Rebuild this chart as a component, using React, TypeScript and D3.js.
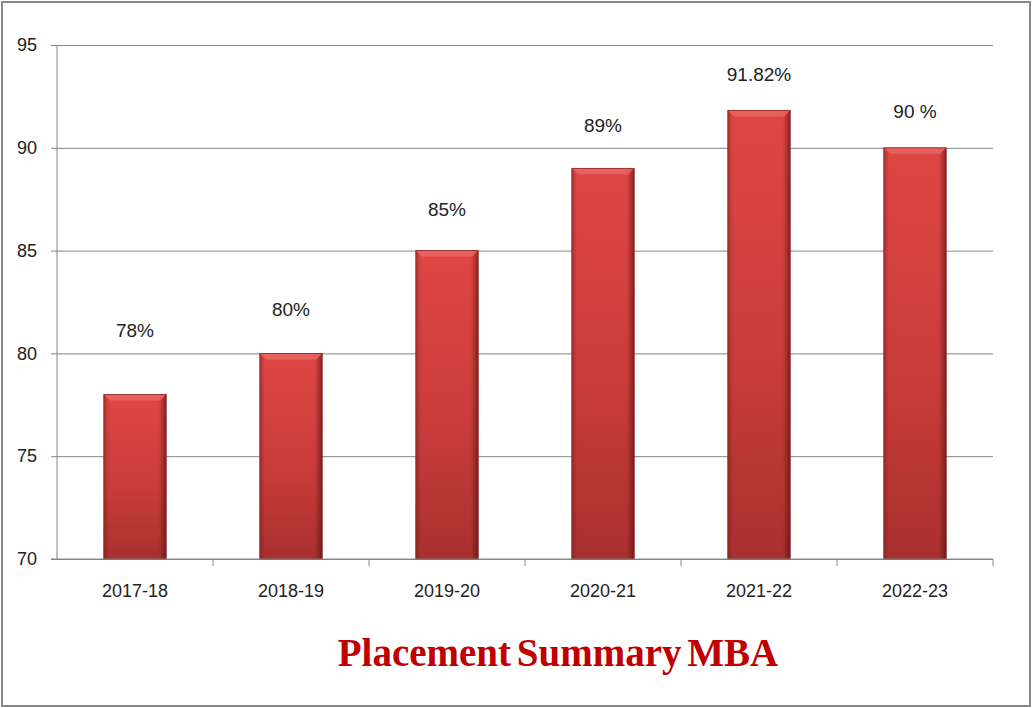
import { useEffect, useRef } from "react"
import * as d3 from "d3"

const years = ["2017-18", "2018-19", "2019-20", "2020-21", "2021-22", "2022-23"]
const placement = [78, 80, 85, 89, 91.82, 90]
const valueLabels = ["78%", "80%", "85%", "89%", "91.82%", "90 %"]
const yTicks = [70, 75, 80, 85, 90, 95]

// label offsets above bar tops (px), the labels were hand-placed in the original
const labelDy = [-58, -37, -35, -36, -29, -30]

const W = 1032, H = 708
const FONT = "'Liberation Sans', Arial, sans-serif"

export default function App() {
  const ref = useRef<SVGSVGElement>(null)
  useEffect(() => {
    if (!ref.current) return
    const svg = d3.select(ref.current)
    svg.selectAll("*").remove()

    const defs = svg.append("defs")
    const vg = defs.append("linearGradient").attr("id", "barV").attr("x1", 0).attr("y1", 0).attr("x2", 0).attr("y2", 1)
    vg.append("stop").attr("offset", "0%").attr("stop-color", "#de4644")
    vg.append("stop").attr("offset", "55%").attr("stop-color", "#c93c3a")
    vg.append("stop").attr("offset", "100%").attr("stop-color", "#a8302f")
    const hg = defs.append("linearGradient").attr("id", "barH").attr("x1", 0).attr("y1", 0).attr("x2", 1).attr("y2", 0)
    hg.append("stop").attr("offset", "0%").attr("stop-color", "#5a0f0f").attr("stop-opacity", 0.35)
    hg.append("stop").attr("offset", "8%").attr("stop-color", "#5a0f0f").attr("stop-opacity", 0)
    hg.append("stop").attr("offset", "88%").attr("stop-color", "#5a0f0f").attr("stop-opacity", 0)
    hg.append("stop").attr("offset", "100%").attr("stop-color", "#3a0808").attr("stop-opacity", 0.55)

    const m = { top: 45, right: 39, bottom: 149, left: 57 }
    const iw = W - m.left - m.right
    const ih = H - m.top - m.bottom

    // outer frame
    svg.append("rect").attr("x", 2).attr("y", 2).attr("width", W - 4).attr("height", H - 4)
      .attr("fill", "#fff").attr("stroke", "#888").attr("stroke-width", 2)

    const g = svg.append("g").attr("transform", `translate(${m.left},${m.top})`)
    const x = d3.scaleBand().domain(years).range([0, iw]).paddingInner(0.6).paddingOuter(0.3)
    const band = d3.scaleBand().domain(years).range([0, iw])
    const y = d3.scaleLinear().domain([70, 95]).range([ih, 0])

    g.append("g").call(d3.axisLeft(y).tickValues(yTicks).tickSize(-iw).tickFormat(d3.format("d")))
      .call(a => {
        a.select(".domain").remove()
        a.selectAll("line").attr("stroke", "#868686").attr("x1", -6)
        a.selectAll("text").attr("x", -20).style("fill", "#222").style("font-family", FONT).style("font-size", "18px")
      })

    g.append("line").attr("x1", 0).attr("x2", 0).attr("y1", 0).attr("y2", ih).attr("stroke", "#868686")

    // bars
    const bars = g.selectAll("g.bar").data(placement).join("g").attr("class", "bar")
    bars.append("rect")
      .attr("x", (_, i) => x(years[i])!).attr("y", d => y(d))
      .attr("width", x.bandwidth()).attr("height", d => ih - y(d))
      .attr("fill", "url(#barV)")
    bars.append("rect")
      .attr("x", (_, i) => x(years[i])!).attr("y", d => y(d))
      .attr("width", x.bandwidth()).attr("height", d => ih - y(d))
      .attr("fill", "url(#barH)")
    // top bevel
    bars.append("path")
      .attr("d", (d, i) => {
        const x0 = x(years[i])!, x1 = x0 + x.bandwidth(), t = y(d), b = 6
        return `M${x0},${t}L${x1},${t}L${x1 - b},${t + b}L${x0 + b},${t + b}Z`
      })
      .attr("fill", "#ec6b67").attr("opacity", 0.75)
    bars.append("rect")
      .attr("x", (_, i) => x(years[i])!).attr("y", d => y(d))
      .attr("width", x.bandwidth()).attr("height", d => ih - y(d))
      .attr("fill", "none").attr("stroke", "#8a2222").attr("stroke-width", 0.8)

    // value labels
    g.selectAll("text.val").data(placement).join("text").attr("class", "val")
      .attr("x", (_, i) => x(years[i])! + x.bandwidth() / 2)
      .attr("y", (d, i) => y(d) + labelDy[i])
      .attr("text-anchor", "middle")
      .style("font-family", FONT).style("font-size", "19px").style("fill", "#222")
      .text((_, i) => valueLabels[i])

    // x axis
    g.append("g").attr("transform", `translate(0,${ih})`)
      .call(d3.axisBottom(band).tickSize(0).tickPadding(25))
      .call(a => {
        a.select(".domain").attr("stroke", "#868686").attr("d", `M-6,0H${iw}`)
        a.selectAll("text").style("fill", "#222").style("font-family", FONT).style("font-size", "18px")
      })
    g.append("g").selectAll("line").data(d3.range(1, years.length + 1)).join("line")
      .attr("x1", i => i * band.step()).attr("x2", i => i * band.step())
      .attr("y1", ih).attr("y2", ih + 7).attr("stroke", "#868686")

    svg.append("text").attr("x", 558).attr("y", 666).attr("text-anchor", "middle")
      .style("font-family", "'Liberation Serif', 'Times New Roman', serif").style("font-weight", "bold")
      .style("font-size", "39px").style("fill", "#c00000").style("word-spacing", "-4px")
      .text("Placement Summary MBA")
  }, [])
  return <svg ref={ref} width={W} height={H} style={{ position: "absolute", left: 0, top: 0, display: "block" }} />
}
